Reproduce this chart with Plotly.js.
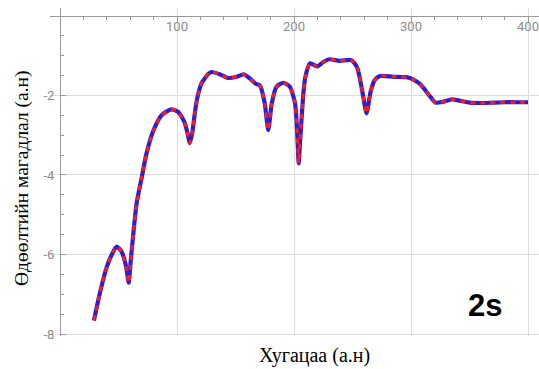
<!DOCTYPE html>
<html>
<head>
<meta charset="utf-8">
<script src="https://cdn.plot.ly/plotly-3.0.1.min.js"></script>
<style>html,body{margin:0;padding:0;background:#fff;}</style>
</head>
<body>
<div id="chart" style="width:539px;height:369px;"></div>
<script>
const timeX = [29, 34, 40, 45.5, 48.5, 52.5, 56.5, 58.7, 60.5, 62.7, 65.5, 70, 74, 80, 87, 95, 101, 106.5, 109, 111, 113, 115, 117, 121, 127, 129.5, 137, 144, 151, 157, 163.5, 167, 171, 175, 178, 181, 185, 191, 196.5, 200.9, 202.3, 203.4, 204, 205.1, 206.6, 208, 209.6, 213.7, 220, 225, 230, 239, 249, 254, 258.7, 262, 265.5, 269, 273.5, 285, 296, 302, 308, 313.5, 317, 321, 327.5, 335, 343, 350, 360, 370, 380, 390, 400];
const probY = [-7.66, -6.98, -6.31, -5.93, -5.80, -5.92, -6.30, -6.71, -6.14, -5.47, -4.71, -4.04, -3.45, -2.87, -2.49, -2.35, -2.41, -2.68, -2.95, -3.20, -2.95, -2.50, -2.11, -1.69, -1.45, -1.41, -1.47, -1.56, -1.53, -1.47, -1.60, -1.70, -1.75, -2.20, -2.87, -2.20, -1.78, -1.68, -1.78, -2.20, -2.70, -3.37, -3.71, -3.20, -2.53, -1.95, -1.55, -1.19, -1.27, -1.16, -1.09, -1.13, -1.11, -1.30, -1.95, -2.45, -1.90, -1.61, -1.51, -1.53, -1.54, -1.60, -1.72, -1.92, -2.05, -2.18, -2.16, -2.10, -2.14, -2.18, -2.19, -2.18, -2.17, -2.17, -2.17];
const xTickVals = [100, 200, 300, 400];
const xTickText = ['100', '200', '300', '400'];
const yTickVals = [-2, -4, -6, -8];
const yTickText = ['-2', '-4', '-6', '-8'];
const xTitle = 'Хугацаа (а.н)';
const yTitle = 'Өдөөлтийн магадлал (а.н)';
const label = '2s';

const tickFont = {family: 'Roboto, Arial, sans-serif', size: 13, color: '#8c8c8c'};
const traces = [
  {x: timeX, y: probY, type: 'scatter', mode: 'lines',
   line: {color: '#2a1fd8', width: 4.2, shape: 'spline', smoothing: 0.6}, hoverinfo: 'skip'},
  {x: timeX, y: probY, type: 'scatter', mode: 'lines',
   line: {color: '#ff1a1a', width: 3, dash: '5px,5px', shape: 'spline', smoothing: 0.6}, hoverinfo: 'skip'}
];
const layout = {
  width: 539, height: 369,
  margin: {l: 50, r: 0, t: 8, b: 33},
  paper_bgcolor: '#fff', plot_bgcolor: '#fff',
  showlegend: false,
  xaxis: {
    range: [-8.55, 409.4], side: 'top', anchor: 'free', position: 0.9758,
    showline: true, linecolor: '#999', linewidth: 1,
    ticks: 'inside', ticklen: 5, tickcolor: '#999',
    tickmode: 'array', tickvals: xTickVals, ticktext: xTickText,
    ticklabelposition: 'inside', tickfont: tickFont,
    showgrid: true, gridcolor: '#dcdcdc', gridwidth: 1, zeroline: false,
    minor: {tickmode: 'linear', tick0: 0, dtick: 20, ticks: 'inside', ticklen: 3, tickcolor: '#999', showgrid: false}
  },
  yaxis: {
    range: [-8.05, 0.2], anchor: 'free', position: 0.02045,
    showline: true, linecolor: '#999', linewidth: 1,
    ticks: 'inside', ticklen: 5, tickcolor: '#999',
    tickmode: 'array', tickvals: yTickVals, ticktext: yTickText,
    tickfont: tickFont, ticklabelstandoff: 3,
    showgrid: true, gridcolor: '#dcdcdc', gridwidth: 1, zeroline: false,
    minor: {tickmode: 'linear', tick0: 0, dtick: 0.5, ticks: 'inside', ticklen: 3, tickcolor: '#999', showgrid: false}
  },
  annotations: [
    {text: '<b>' + label + '</b>', xref: 'paper', yref: 'paper', x: 0.8896, y: 0.0945,
     xanchor: 'center', yanchor: 'middle', showarrow: false,
     font: {family: 'Liberation Sans, Arial, sans-serif', size: 31, color: '#000'}},
    {text: xTitle, xref: 'paper', yref: 'paper', x: 0.54, y: -0.058,
     xanchor: 'center', yanchor: 'middle', showarrow: false,
     font: {family: 'Liberation Serif, Times New Roman, serif', size: 20, color: '#000'}},
    {text: yTitle, xref: 'paper', yref: 'paper', x: -0.0573, y: 0.4817, textangle: -90,
     xanchor: 'center', yanchor: 'middle', showarrow: false,
     font: {family: 'Liberation Serif, Times New Roman, serif', size: 19.5, color: '#000'}}
  ]
};
Plotly.newPlot('chart', traces, layout, {staticPlot: true, displayModeBar: false});
</script>
</body>
</html>
